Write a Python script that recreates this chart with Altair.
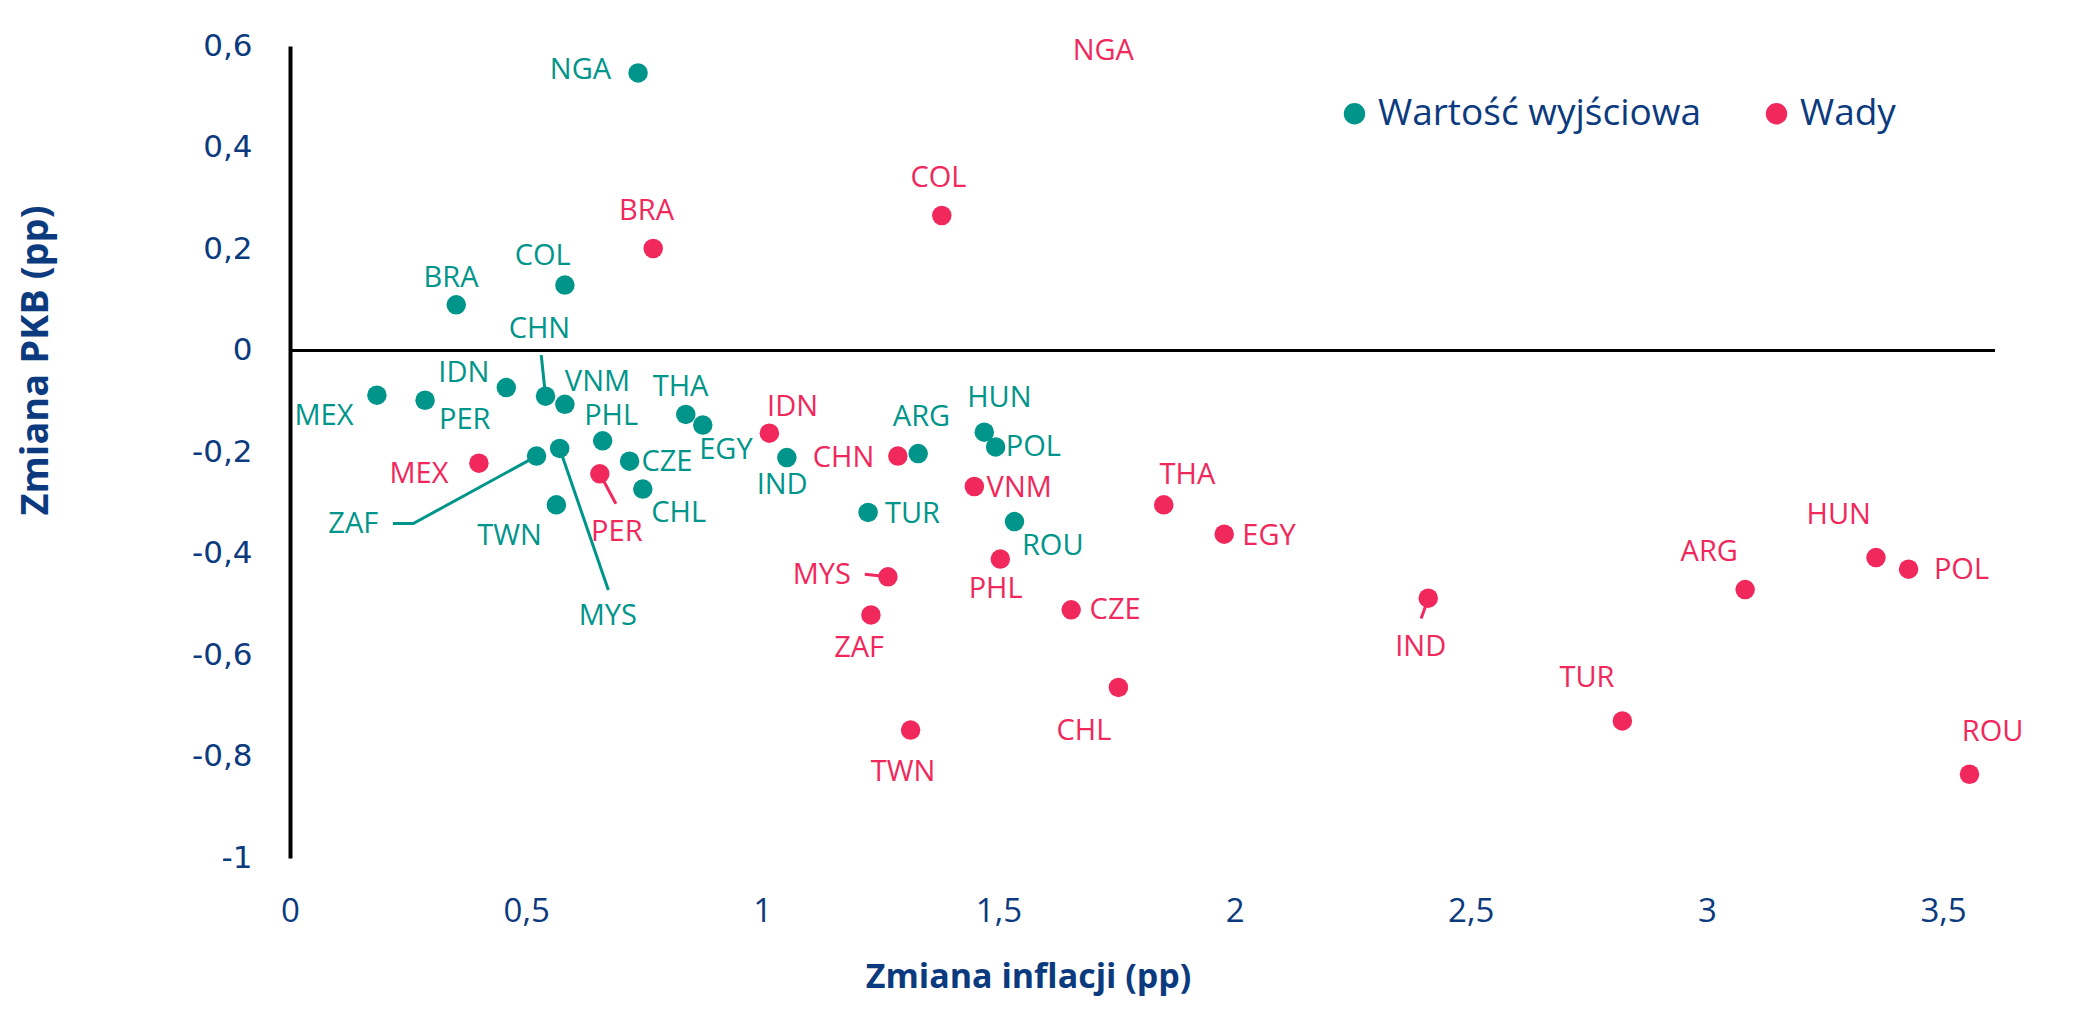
import altair as alt
import pandas as pd

# ---------------- data ----------------
countries = ["NGA", "BRA", "COL", "CHN", "IDN", "MEX", "PER", "VNM", "THA", "PHL", "EGY",
             "ARG", "HUN", "POL", "IND", "CZE", "ZAF", "MYS", "CHL", "TWN", "TUR", "ROU"]

series_names = ["Wartość wyjściowa", "Wady"]

# baseline (teal)
base_x = [0.737, 0.352, 0.582, 0.541, 0.458, 0.184, 0.286, 0.582, 0.838, 0.662, 0.874,
          1.330, 1.470, 1.494, 1.052, 0.719, 0.522, 0.571, 0.747, 0.564, 1.224, 1.534]
base_y = [0.547, 0.090, 0.129, -0.090, -0.073, -0.088, -0.098, -0.106, -0.126, -0.178, -0.147,
          -0.203, -0.161, -0.190, -0.211, -0.218, -0.208, -0.193, -0.273, -0.304, -0.319, -0.337]
base_lx = [0.615, 0.341, 0.535, 0.528, 0.368, 0.072, 0.370, 0.651, 0.827, 0.680, 0.923,
           1.337, 1.502, 1.574, 1.042, 0.798, 0.134, 0.673, 0.823, 0.465, 1.318, 1.615]
base_ly = [0.553, 0.143, 0.186, 0.043, -0.045, -0.129, -0.137, -0.062, -0.072, -0.130, -0.196,
           -0.132, -0.094, -0.190, -0.266, -0.220, -0.341, -0.524, -0.321, -0.365, -0.322, -0.385]

# adverse (red)
adv_x = [1.722, 0.769, 1.380, 1.287, 1.015, 0.400, 0.656, 1.449, 1.850, 1.504, 1.978,
         3.081, 3.358, 3.427, 2.410, 1.654, 1.230, 1.266, 1.754, 1.314, 2.821, 3.556]
adv_y = [0.660, 0.201, 0.266, -0.208, -0.163, -0.222, -0.243, -0.268, -0.304, -0.411, -0.362,
         -0.471, -0.408, -0.431, -0.488, -0.511, -0.521, -0.446, -0.664, -0.748, -0.730, -0.835]
adv_lx = [1.722, 0.755, 1.373, 1.172, 1.064, 0.273, 0.692, 1.544, 1.900, 1.494, 2.073,
          3.005, 3.279, 3.539, 2.394, 1.747, 1.205, 1.126, 1.681, 1.298, 2.746, 3.605]
adv_ly = [0.590, 0.275, 0.340, -0.211, -0.111, -0.243, -0.358, -0.271, -0.245, -0.469, -0.366,
          -0.398, -0.324, -0.433, -0.584, -0.511, -0.586, -0.442, -0.750, -0.830, -0.646, -0.751]

# leader lines: (id, series, x, y)
lead_id = ["tCHN", "tCHN", "tZAF", "tZAF", "tZAF", "tMYS", "tMYS",
           "rPER", "rPER", "rMYS", "rMYS", "rIND", "rIND"]
lead_series = ["Wartość wyjściowa"] * 7 + ["Wady"] * 6
lead_x = [0.532, 0.541, 0.218, 0.261, 0.522, 0.674, 0.571,
          0.656, 0.690, 1.217, 1.266, 2.410, 2.395]
lead_y = [-0.009, -0.090, -0.341, -0.341, -0.208, -0.472, -0.193,
          -0.243, -0.302, -0.441, -0.446, -0.488, -0.528]

x_ticks = [0, 0.5, 1, 1.5, 2, 2.5, 3, 3.5]
y_ticks = [-1, -0.8, -0.6, -0.4, -0.2, 0, 0.2, 0.4, 0.6]

TEAL = "#00958A"
RED = "#F0285C"
NAVY = "#0B3A7E"
FONT = "Open Sans"

# ---------------- tables ----------------
pts = pd.DataFrame({
    "country": countries * 2,
    "series": [series_names[0]] * len(countries) + [series_names[1]] * len(countries),
    "x": base_x + adv_x,
    "y": base_y + adv_y,
    "lx": base_lx + adv_lx,
    "ly": base_ly + adv_ly,
})
leads = pd.DataFrame({"id": lead_id, "series": lead_series, "x": lead_x, "y": lead_y,
                      "ord": list(range(len(lead_id)))})

xscale = alt.Scale(domain=[0, 3.61], nice=False, zero=False)
yscale = alt.Scale(domain=[-1, 0.6], nice=False, zero=False)
cscale = alt.Scale(domain=series_names, range=[TEAL, RED])

xaxis = alt.Axis(values=x_ticks, labelExpr="replace(toString(datum.value), '.', ',')",
                 domain=False, ticks=False, grid=False, labelFont=FONT, labelFontSize=33,
                 labelColor=NAVY, labelPadding=37, title="Zmiana inflacji (pp)",
                 titleFont=FONT, titleFontSize=34, titleFontWeight="bold", titleColor=NAVY,
                 titleX=738, titleY=119, titleAlign="center", titleBaseline="middle",
                 labelFlush=False, labelOverlap=False)
yaxis = alt.Axis(values=y_ticks, labelExpr="replace(toString(datum.value), '.', ',')",
                 domain=True, domainColor="black", domainWidth=4, ticks=False, grid=False,
                 labelFont="DejaVu Sans", labelFontSize=31, labelColor=NAVY, labelPadding=38,
                 title="Zmiana PKB (pp)", titleFont=FONT, titleFontSize=38,
                 titleFontWeight="bold", titleColor=NAVY, titleAngle=270,
                 titleX=-254, titleY=314, titleAlign="center", titleBaseline="middle",
                 labelFlush=False, labelOverlap=False)

zero = alt.Chart(pts).mark_rule(color="black", strokeWidth=3).encode(
    y=alt.datum(0, scale=yscale, axis=yaxis)
)

lines = alt.Chart(leads).mark_line(strokeWidth=3).encode(
    x=alt.X("x:Q", scale=xscale, axis=xaxis),
    y=alt.Y("y:Q", scale=yscale, axis=yaxis),
    detail="id:N",
    order="ord:Q",
    color=alt.Color("series:N", scale=cscale, legend=None),
)

points = alt.Chart(pts).mark_circle(size=380, opacity=1, clip=True).encode(
    x=alt.X("x:Q", scale=xscale, axis=xaxis),
    y=alt.Y("y:Q", scale=yscale, axis=yaxis),
    color=alt.Color("series:N", scale=cscale, sort=series_names,
                    legend=alt.Legend(title=None, orient="none", direction="horizontal",
                                      legendX=1046, legendY=49, padding=0,
                                      symbolType="circle", symbolSize=460,
                                      symbolStrokeWidth=0, symbolOpacity=1,
                                      labelFont=FONT, labelFontSize=37, labelColor=NAVY,
                                      labelOffset=5, columnPadding=57,
                                      labelLimit=600)),
)

labels = alt.Chart(pts).mark_text(font=FONT, fontSize=29, align="center",
                                  baseline="middle").encode(
    x=alt.X("lx:Q", scale=xscale, axis=xaxis),
    y=alt.Y("ly:Q", scale=yscale, axis=yaxis),
    text="country:N",
    color=alt.Color("series:N", scale=cscale, legend=None),
)

chart = alt.layer(zero, lines, points, labels).resolve_legend(
    color="independent"
).properties(
    width=1705, height=812,
    autosize=alt.AutoSizeParams(type="none"),
    padding={"left": 290, "top": 46, "right": 84, "bottom": 169},
    background="white",
).configure_view(stroke=None)

chart.save("out.html", embed_options={"renderer": "svg", "actions": False})
